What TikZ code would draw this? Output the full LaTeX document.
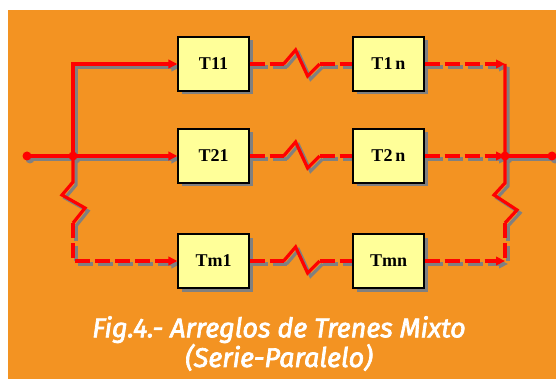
\documentclass[tikz,border=0pt]{standalone}
\usepackage{fontspec}
\setmainfont{Liberation Serif}
\newfontfamily\capfont{Fira Sans}
\usetikzlibrary{arrows.meta,shadows,calc}
\definecolor{bgorange}{HTML}{F39322}
\definecolor{boxyellow}{HTML}{FFFF99}
\definecolor{shadowgray}{HTML}{808080}
\definecolor{linered}{HTML}{FF0000}
\pgfdeclarelayer{back}
\pgfsetlayers{back,main}
\tikzset{
  tbox/.style={draw=black, line width=1.2pt, fill=boxyellow, minimum width=71pt,
    minimum height=54pt, inner sep=0pt, font=\bfseries\fontsize{18}{18}\selectfont,
    drop shadow={shadow xshift=3.5pt, shadow yshift=-3.5pt, fill=shadowgray, opacity=1}},
  wire/.style={line width=3.2pt},
  dwire/.style={line width=3.2pt, dash pattern=on 15pt off 5pt},
  tip/.style={-{Triangle[length=9pt,width=8.5pt]}},
}
\newcommand\heavytext[1]{\special{pdf:code 2 Tr 0.7 w}#1\special{pdf:code 0 Tr}}
\newcommand\zigrow[3]{%
  \draw[dwire,#3] (#1.east) -- ++(34,0);
  \draw[wire,#3] ($(#1.east)+(34,0)$) -- ++(12,-14) -- ++(12,26) -- ++(12,-12);
  \draw[dwire,#3] ($(#1.east)+(70,0)$) -- (#2.west);
}
\newcommand\allwires[1]{%
  \draw[wire,#1] (in) -- (j1);
  \draw[wire,tip,#1] (j1) -- (T21.west);
  \draw[wire,tip,#1] (j1) -- (jt) -- (T11.west);
  \draw[wire,#1] (j1) -- ++(0,26) -- ++(-11,13) -- ++(23,13) -- ++(-12,15);
  \draw[dwire,tip,#1] ($(j1)+(0,67)$) -- (jb) -- (Tm1.west);
  \zigrow{T11}{T1n}{#1}
  \zigrow{T21}{T2n}{#1}
  \zigrow{Tm1}{Tmn}{#1}
  \draw[dwire,tip,#1] (T1n.east) -- (rt);
  \draw[dwire,tip,#1] (T2n.east) -- (j2);
  \draw[dwire,tip,#1] (Tmn.east) -- (rb);
  \draw[wire,#1] (rt) -- (j2) -- ++(0,27) -- ++(-11,12) -- ++(23,15) -- ++(-12,13);
  \draw[dwire,#1] ($(j2)+(0,67)$) -- (rb);
  \draw[wire,#1] (j2) -- (out);
  \fill[#1] (in) circle (4.5pt);
  \fill[#1] (j1) circle (4.5pt);
  \fill[#1] (j2) circle (4.5pt);
  \fill[#1] (out) circle (4.5pt);
}
\begin{document}
\begin{tikzpicture}[x=1pt,y=-1pt]
\useasboundingbox (0,0) rectangle (556,379);
\begin{pgfonlayer}{back}
  \fill[bgorange] (8,10) rectangle (556,379);
\end{pgfonlayer}
\coordinate (in) at (27,156);
\coordinate (j1) at (73,156);
\coordinate (jt) at (73,64);
\coordinate (jb) at (73,261);
\coordinate (j2) at (505,156);
\coordinate (rt) at (505,64);
\coordinate (rb) at (505,261);
\coordinate (out) at (552,156);
\node[tbox] (T11) at (213.5,64) {T11};
\node[tbox] (T1n) at (388.5,64) {T1\,n};
\node[tbox] (T21) at (213.5,156) {T21};
\node[tbox] (T2n) at (388.5,156) {T2\,n};
\node[tbox] (Tm1) at (213.5,261) {Tm1};
\node[tbox] (Tmn) at (388.5,261) {Tmn};
\begin{pgfonlayer}{back}
  \begin{scope}[transform canvas={shift={(3pt,-3pt)}}]
    \allwires{shadowgray}
  \end{scope}
\end{pgfonlayer}
\allwires{linered}
\node[font=\capfont\itshape\fontsize{27}{24}\selectfont, text=white, align=center,
  inner sep=0pt, anchor=north] (caption) at (279,316)
  {\heavytext{Fig.4.- Arreglos de Trenes Mixto}\\\heavytext{(Serie-Paralelo)}};
\end{tikzpicture}
\end{document}
